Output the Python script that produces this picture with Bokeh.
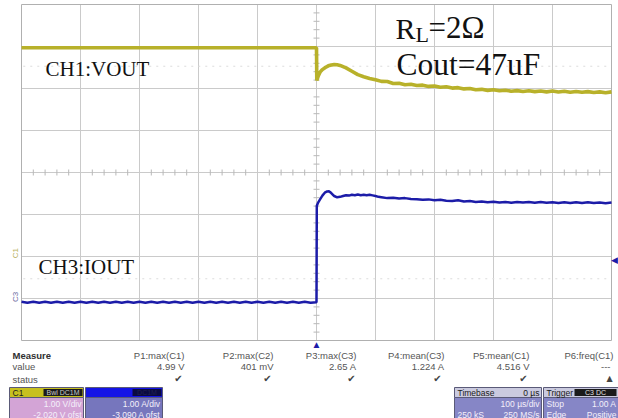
import numpy as np
from bokeh.plotting import figure
from bokeh.models import Range1d, Label
from bokeh.layouts import column
from bokeh.embed import file_html
from bokeh.resources import INLINE
from bokeh.core.properties import value

# ---------------- data ----------------
# CH1: VOUT (V), time in microseconds
ch1_t = [-500, -250, 0, 0.5, 3, 6, 10, 15, 20, 25, 30, 35, 40, 50, 60, 70, 80, 90,
         100, 110, 120, 130, 140, 150, 160, 170, 180, 190, 200, 210, 220, 230, 240,
         250, 260, 270, 280, 290, 300, 310, 320, 330, 340, 350, 360, 370, 380, 390,
         400, 410, 420, 430, 440, 450, 460, 470, 480, 490, 500]
ch1_v = [4.99, 4.99, 4.99, 4.21, 4.32, 4.41, 4.47, 4.52, 4.56, 4.58, 4.59, 4.585, 4.57,
         4.51, 4.43, 4.35, 4.30, 4.26,
         4.23, 4.19, 4.185, 4.14, 4.145, 4.11, 4.12, 4.09, 4.10, 4.07, 4.08, 4.05, 4.06,
         4.03, 4.04, 4.01, 4.02, 3.99, 4.00, 3.975, 3.99, 3.965, 3.98, 3.955, 3.97, 3.95,
         3.965, 3.945, 3.96, 3.94, 3.96, 3.935, 3.955, 3.93, 3.95, 3.93, 3.945, 3.925,
         3.94, 3.92, 3.94]

# CH3: IOUT (A)
ch3_pre_t = list(range(-500, 0, 10))
ch3_pre_i = [0.012, -0.012, 0.012, -0.012, 0.012, -0.012, 0.012, -0.012, 0.012, -0.012,
             0.012, -0.012, 0.012, -0.012, 0.012, -0.012, 0.012, -0.012, 0.012, -0.012,
             0.012, -0.012, 0.012, -0.012, 0.012, -0.012, 0.012, -0.012, 0.012, -0.012,
             0.012, -0.012, 0.012, -0.012, 0.012, -0.012, 0.012, -0.012, 0.012, -0.012,
             0.012, -0.012, 0.012, -0.012, 0.012, -0.012, 0.012, -0.012, 0.012, -0.012]
ch3_post_t = [0, 0.5, 3, 6, 10, 14, 18, 21, 25, 30, 35, 40, 45, 50, 55, 60, 65, 70, 75,
              80, 85, 90, 95, 100, 105, 110, 120, 130, 140, 150, 160, 170, 180, 190,
              200, 210, 220, 230, 240, 250, 260, 270, 280, 290, 300, 310, 320, 330,
              340, 350, 360, 370, 380, 390, 400, 410, 420, 430, 440, 450, 460, 470,
              480, 490, 500]
ch3_post_i = [0.0, 2.30, 2.38, 2.45, 2.54, 2.61, 2.64, 2.645, 2.60, 2.53, 2.50, 2.51,
              2.53, 2.55, 2.54, 2.56, 2.55, 2.565, 2.55, 2.56, 2.55, 2.56, 2.545, 2.53,
              2.51, 2.50, 2.48, 2.49, 2.47, 2.48, 2.46, 2.455, 2.44, 2.45, 2.43, 2.44,
              2.42, 2.41, 2.43, 2.40, 2.41, 2.39, 2.40, 2.38, 2.395, 2.375, 2.39, 2.37,
              2.385, 2.375, 2.385, 2.37, 2.385, 2.37, 2.38, 2.365, 2.38, 2.365, 2.38,
              2.365, 2.38, 2.365, 2.375, 2.36, 2.375]
ch3_t = ch3_pre_t + ch3_post_t
ch3_i = ch3_pre_i + ch3_post_i

ch1_offset = -2.020   # V
ch3_offset = -3.090   # A
trigger_level = 1.00  # A

x_ticks = [-500, -400, -300, -200, -100, 0, 100, 200, 300, 400, 500]
y_ticks = [-4, -3, -2, -1, 0, 1, 2, 3, 4]

meas_names = ["P1:max(C1)", "P2:max(C2)", "P3:max(C3)", "P4:mean(C3)", "P5:mean(C1)", "P6:freq(C1)"]
meas_values = ["4.99 V", "401 mV", "2.65 A", "1.224 A", "4.516 V", "---"]
meas_status = ["\u2714", "\u2714", "\u2714", "\u2714", "\u2714", "\u25B2"]

# ---------------- layout helpers (pixel -> screen-division coords) ----------------
FL, FR, FT, FB = 21, 611, 4, 340
W, H1 = 618, 350
def tx(px):
    return -500 + (px - FL) / (FR - FL) * 1000
def ty(py):
    return 4 - (py - FT) / (FB - FT) * 8

GRID = "#cacaca"
EDGE = "#b0b0b0"
YEL = "#b8b12a"
BLU = "#1c1ca8"

p1 = figure(width=W, height=H1, x_range=Range1d(tx(0), tx(W)), y_range=Range1d(ty(H1), ty(0)),
            x_axis_location=None, y_axis_location=None, min_border=0,
            output_backend="svg", toolbar_location=None)
p1.extra_y_ranges = {"v": Range1d(ty(H1) - ch1_offset, ty(0) - ch1_offset),
                     "a": Range1d(ty(H1) - ch3_offset, ty(0) - ch3_offset)}
p1.xgrid.visible = False
p1.ygrid.visible = False
p1.outline_line_color = None
p1.background_fill_color = "white"
p1.border_fill_color = "white"

x0, x1 = x_ticks[0], x_ticks[-1]
y0, y1 = y_ticks[0], y_ticks[-1]
# graticule
p1.segment(x0=x_ticks[1:-1], y0=[y0] * 9, x1=x_ticks[1:-1], y1=[y1] * 9,
           line_color=GRID, line_width=1)
p1.segment(x0=[x0] * 7, y0=y_ticks[1:-1], x1=[x1] * 7, y1=y_ticks[1:-1],
           line_color=GRID, line_width=1)
p1.quad(left=[x0], right=[x1], bottom=[y0], top=[y1], fill_color=None,
        line_color=EDGE, line_width=1)
# sub-division ticks on the centre cross-hair
x_minor = [t for t in range(-500, 501, 20) if t % 100 != 0]
y_minor = [round(v * 0.2, 1) for v in range(-20, 21) if v % 5 != 0]
tick_hx = (tx(24) - tx(21))
tick_hy = (ty(4) - ty(7))
p1.segment(x0=x_minor, y0=[-tick_hy] * len(x_minor), x1=x_minor,
           y1=[tick_hy] * len(x_minor), line_color="#b8b8b8", line_width=1)
p1.segment(x0=[-tick_hx] * len(y_minor), y0=y_minor, x1=[tick_hx] * len(y_minor),
           y1=y_minor, line_color="#b8b8b8", line_width=1)

for yv in (2.53, -2.53):
    p1.segment(x0=[x0 + 3], y0=[yv], x1=[x1 - 3], y1=[yv], line_color="#dcdcdc",
               line_dash="2 5", line_width=1)

p1.line(ch1_t, ch1_v, y_range_name="v", line_color=YEL, line_width=3.6)
p1.line(ch3_t, ch3_i, y_range_name="a", line_color=BLU, line_width=2.5)

serif = "Liberation Serif"
p1.add_layout(Label(x=tx(45), y=ty(80), text="CH1:VOUT", text_font=serif,
                    text_font_size="21px", text_color="#111111"))
p1.add_layout(Label(x=tx(38), y=ty(278), text="CH3:IOUT", text_font=serif,
                    text_font_size="21px", text_color="#111111"))
p1.add_layout(Label(x=tx(395), y=ty(44), text="R", text_font=serif,
                    text_font_size="30px", text_color="#111111"))
p1.add_layout(Label(x=tx(415), y=ty(46), text="L", text_font=serif,
                    text_font_size="22px", text_color="#111111"))
p1.add_layout(Label(x=tx(428), y=ty(44), text="=2\u03A9", text_font=serif,
                    text_font_size="31px", text_color="#111111"))
p1.add_layout(Label(x=tx(396), y=ty(81), text="Cout=47uF", text_font=serif,
                    text_font_size="31.5px", text_color="#111111"))

# channel / trigger markers outside the graticule
p1.add_layout(Label(x=tx(15), y=ch1_offset + 0.1, text="C1",
                    angle=np.pi / 2, text_font_size="8px", text_color="#b7b05a",
                    text_align="center", text_baseline="middle"))
p1.add_layout(Label(x=tx(15), y=ch3_offset + 0.13, text="C3",
                    angle=np.pi / 2, text_font_size="8px", text_color="#6a6aa0",
                    text_align="center", text_baseline="middle"))
p1.add_layout(Label(x=tx(617), y=trigger_level, y_range_name="a", text="\u25C0",
                    text_font_size="9px", text_color=BLU,
                    text_align="right", text_baseline="middle"))
p1.add_layout(Label(x=0, y=ty(344), text="\u25B2", text_font_size="10px", text_color=BLU,
                    text_align="center", text_baseline="middle"))

# ---------------- measurement panel ----------------
p2 = figure(width=W, height=418 - H1, x_range=Range1d(0, W), y_range=Range1d(418, H1),
            x_axis_location=None, y_axis_location=None, min_border=0,
            output_backend="svg", toolbar_location=None)
p2.xgrid.visible = False
p2.ygrid.visible = False
p2.outline_line_color = None
p2.background_fill_color = "white"
p2.border_fill_color = "white"

sans = value("Liberation Sans")
col_right = [184, 273, 356, 444, 529, 613]
stat_x = [178, 267, 351, 437, 523, 609]
p2.text(x=[12], y=[355], text=["Measure"], text_font=sans, text_font_size="9.5px",
        text_font_style="bold", text_color="#303030", text_baseline="middle")
p2.text(x=[12, 12], y=[366, 379], text=["value", "status"], text_font=sans,
        text_font_size="9.5px", text_color="#555555", text_baseline="middle")
p2.text(x=col_right, y=[355] * 6, text=meas_names, text_font=sans, text_font_size="9.5px",
        text_color="#555555", text_align="right", text_baseline="middle")
p2.text(x=col_right[:5] + [610], y=[366] * 6, text=meas_values, text_font=sans,
        text_font_size="9.5px", text_color="#555555", text_align="right",
        text_baseline="middle")
p2.text(x=stat_x, y=[378] * 6, text=meas_status, text_font=value("DejaVu Sans"),
        text_font_size=["10px"] * 5 + ["8px"], text_color="#444444", text_align="center",
        text_baseline="middle")

# dialog boxes
bx_l = [9, 85, 454, 543]
bx_r = [83, 162, 541, 618]
head_col = ["#c7c01f", "#1414e6", "#cacadf", "#cacadf"]
body_col = ["#d3a4d6", "#7676bd", "#8686c6", "#8686c6"]
p2.quad(left=bx_l, right=bx_r, top=[397] * 4, bottom=[419] * 4, fill_color=body_col,
        line_color="#5a5a78", line_width=1)
p2.quad(left=bx_l, right=bx_r, top=[387] * 4, bottom=[397] * 4, fill_color=head_col,
        line_color="#5a5a78", line_width=1)
# badges
p2.quad(left=[43, 132, 574], right=[82, 161, 616], top=[388.5] * 3, bottom=[395.5] * 3,
        fill_color=["#1a1a1a", "#0a0a40", "#1a1a1a"], line_color=None)
p2.text(x=[12, 457, 546], y=[392] * 3, text=["C1", "Timebase", "Trigger"], text_font=sans,
        text_font_size="8.5px", text_color="#202020", text_baseline="middle")
p2.text(x=[539], y=[392], text=["0 \u00b5s"], text_font=sans, text_font_size="8.5px",
        text_color="#202020", text_align="right", text_baseline="middle")
p2.text(x=[62.5, 146.5, 595], y=[392] * 3, text=["Bwl DC1M", "DC1M", "C3 DC"],
        text_font=sans, text_font_size="7px", text_color=["#c8c8c8", "#202050", "#e0e0e0"],
        text_align="center", text_baseline="middle")
p2.text(x=[81, 81, 160, 160, 539, 539, 616, 616],
        y=[403, 414, 403, 414, 403, 414, 403, 414],
        text=["1.00 V/div", "-2.020 V ofst", "1.00 A/div", "-3.090 A ofst",
              "100 \u00b5s/div", "250 MS/s", "1.00 A", "Positive"],
        text_font=sans, text_font_size="8.5px", text_color="#f4f0fa", text_align="right",
        text_baseline="middle")
p2.text(x=[457, 546, 546], y=[414, 403, 414], text=["250 kS", "Stop", "Edge"],
        text_font=sans, text_font_size="8.5px", text_color="#f4f0fa",
        text_baseline="middle")

layout = column(p1, p2, spacing=0)
open("out.html", "w").write(file_html(layout, INLINE))
